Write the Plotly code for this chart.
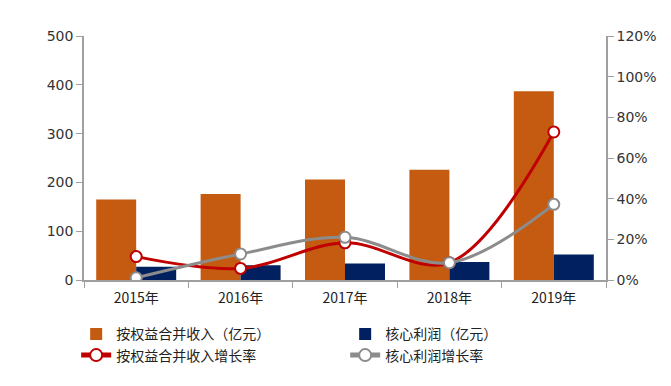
import plotly.graph_objects as go

years = ["2015年", "2016年", "2017年", "2018年", "2019年"]
revenue = [165, 176, 206, 226, 387]
core_profit = [27, 30, 34, 37, 52]
revenue_growth = [0.115, 0.057, 0.183, 0.085, 0.728]
profit_growth = [0.011, 0.128, 0.21, 0.085, 0.372]

fig = go.Figure()
fig.add_trace(go.Bar(x=years, y=revenue, name="按权益合并收入（亿元）",
                     marker=dict(color="#C55A11", line=dict(width=0))))
fig.add_trace(go.Bar(x=years, y=core_profit, name="核心利润（亿元）",
                     marker=dict(color="#002060", line=dict(width=0))))
fig.add_trace(go.Scatter(x=years, y=revenue_growth, name="按权益合并收入增长率", yaxis="y2",
                         mode="lines+markers", line=dict(color="#C00000", width=3, shape="spline"),
                         marker=dict(size=11, color="white", line=dict(color="#C00000", width=2))))
fig.add_trace(go.Scatter(x=years, y=profit_growth, name="核心利润增长率", yaxis="y2",
                         mode="lines+markers", line=dict(color="#8C8C8C", width=3, shape="spline"),
                         marker=dict(size=11, color="white", line=dict(color="#8C8C8C", width=2))))

font = dict(family="Noto Sans CJK SC, Noto Sans, sans-serif", size=13, color="#333333")
fig.update_layout(
    width=655, height=370,
    margin=dict(l=76, r=57, t=28, b=98, autoexpand=False),
    paper_bgcolor="white", plot_bgcolor="white",
    font=font,
    barmode="group", bargap=0.234, bargroupgap=0,
    showlegend=True,
    legend=dict(orientation="h", x=-0.015, y=-0.157, xanchor="left", yanchor="top",
                entrywidth=224, entrywidthmode="pixels", tracegroupgap=0,
                font=dict(family="Noto Sans CJK SC, sans-serif", size=14, color="#222222"),
                itemsizing="constant"),
    xaxis=dict(showline=True, linecolor="#A0A0A0", linewidth=1.5, ticks="outside",
               tickson="boundaries", ticklen=6, tickcolor="#A0A0A0", showgrid=False,
               ticklabelstandoff=4,
               tickfont=dict(size=14, color="#222222")),
    yaxis=dict(range=[0, 500], dtick=100, showline=True, linecolor="#A0A0A0", linewidth=1.5,
               ticks="outside", ticklen=6, tickcolor="#A0A0A0", showgrid=False, zeroline=False,
               tickfont=dict(family="DejaVu Sans, sans-serif", size=14, color="#333333")),
    yaxis2=dict(range=[0, 1.2], dtick=0.2, tickformat=".0%", overlaying="y", side="right",
                showline=True, linecolor="#A0A0A0", linewidth=1.5, ticks="outside", ticklen=6,
                tickcolor="#A0A0A0", showgrid=False, zeroline=False,
                tickfont=dict(family="DejaVu Sans, sans-serif", size=14, color="#333333")),
)
fig.write_html("out.html")
